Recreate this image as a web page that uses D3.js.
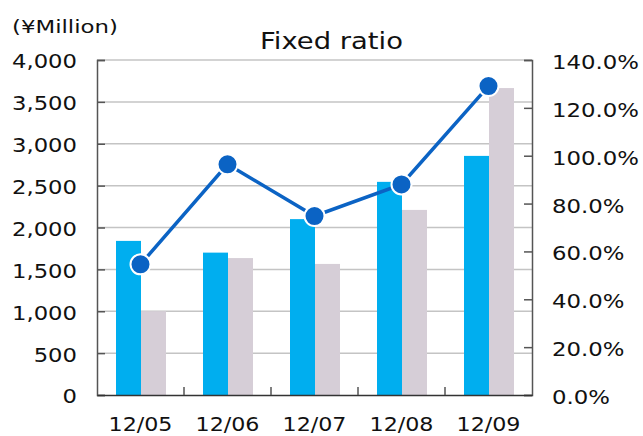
<!DOCTYPE html>
<html><head><meta charset="utf-8">
<script src="https://cdn.jsdelivr.net/npm/d3@7"></script>
<style>body{margin:0;background:#fff}svg{display:block}text{font-family:"DejaVu Sans",Verdana,sans-serif;fill:#111}</style>
</head><body>
<svg id="c" width="643" height="436"></svg>
<script>
const categories = ["12/05","12/06","12/07","12/08","12/09"];
const seriesA = [1840, 1700, 2100, 2545, 2855];
const seriesB = [1000, 1635, 1565, 2210, 3665];
const ratio = [54.6, 96.4, 74.8, 88.0, 129.1];
const leftTicks = [0,500,1000,1500,2000,2500,3000,3500,4000];
const rightTicks = [0,20,40,60,80,100,120,140];

const svg = d3.select("#c");
const L = 97, R = 532, T = 60, B = 395;
const x = d3.scaleBand().domain(categories).range([L, R]);
const yL = d3.scaleLinear().domain([0, 4000]).range([B, T]);
const yR = d3.scaleLinear().domain([0, 140]).range([B, T]);

// horizontal stretch to mimic the wide font of the original
function measure(str, size) {
  const t = svg.append("text").attr("font-size", size).text(str);
  const w = t.node().getComputedTextLength(); t.remove(); return w;
}
function stretch(sel, k) {
  sel.each(function() {
    const e = d3.select(this), ax = +e.attr("x");
    e.attr("transform", `translate(${ax},0) scale(${k},1) translate(${-ax},0)`);
  });
}

// gridlines
svg.append("g").selectAll("line").data(leftTicks.slice(1)).join("line")
  .attr("x1", L).attr("x2", R).attr("y1", d => yL(d)).attr("y2", d => yL(d))
  .attr("stroke", "#c4c4c4").attr("stroke-width", 1.5);

// bars
const bw = 25, off = 19;
svg.append("g").selectAll("rect").data(seriesA).join("rect")
  .attr("x", (d,i) => x(categories[i]) + off).attr("width", bw)
  .attr("y", d => yL(d)).attr("height", d => B - yL(d)).attr("fill", "#00AEEF");
svg.append("g").selectAll("rect").data(seriesB).join("rect")
  .attr("x", (d,i) => x(categories[i]) + off + bw).attr("width", bw)
  .attr("y", d => yL(d)).attr("height", d => B - yL(d)).attr("fill", "#D6CED7");

// axes
const fs = 19.5;
const axL = svg.append("g").attr("transform", `translate(${L},0)`)
  .call(d3.axisRight(yL).tickValues(leftTicks).tickSize(8).tickFormat(""));
axL.select(".domain").attr("stroke", "#555").attr("stroke-width", 1.5);
axL.selectAll(".tick line").attr("stroke", "#555").attr("stroke-width", 1.5);
const lt = svg.append("g").selectAll("text").data(leftTicks).join("text")
  .attr("x", 77).attr("y", d => yL(d) + 8.5).attr("text-anchor", "end")
  .attr("font-size", fs).text(d => d3.format(",")(d));
stretch(lt, 65 / measure("4,000", fs));

const axR = svg.append("g").attr("transform", `translate(${R},0)`)
  .call(d3.axisLeft(yR).tickValues(rightTicks).tickSize(8).tickFormat(""));
axR.select(".domain").attr("stroke", "#555").attr("stroke-width", 1.5);
axR.selectAll(".tick line").attr("stroke", "#555").attr("stroke-width", 1.5);
const rt = svg.append("g").selectAll("text").data(rightTicks).join("text")
  .attr("x", 552).attr("y", d => yR(d) + 9).attr("text-anchor", "start")
  .attr("font-size", fs).text(d => d.toFixed(1) + "%");
stretch(rt, 87 / measure("140.0%", fs));

const axB = svg.append("g").attr("transform", `translate(0,${B})`)
  .call(d3.axisTop(x).tickSize(0).tickFormat(""));
axB.select(".domain").attr("stroke", "#333").attr("stroke-width", 1.5);
svg.append("g").selectAll("line").data(categories.slice(1)).join("line")
  .attr("x1", d => x(d)).attr("x2", d => x(d)).attr("y1", B).attr("y2", B - 8)
  .attr("stroke", "#555").attr("stroke-width", 1.5);
const bt = svg.append("g").selectAll("text").data(categories).join("text")
  .attr("x", d => x(d) + x.bandwidth()/2).attr("y", 431).attr("text-anchor", "middle")
  .attr("font-size", fs).text(d => d);
stretch(bt, 64 / measure("12/05", fs));

// line
const cx = (d,i) => x(categories[i]) + x.bandwidth()/2;
svg.append("path").datum(ratio)
  .attr("d", d3.line().x(cx).y(d => yR(d)))
  .attr("fill", "none").attr("stroke", "#0B63C4").attr("stroke-width", 3.5);
svg.append("g").selectAll("circle").data(ratio).join("circle")
  .attr("cx", cx).attr("cy", d => yR(d)).attr("r", 10)
  .attr("fill", "#0B63C4").attr("stroke", "#fff").attr("stroke-width", 2);

// titles
const title = svg.append("text").attr("x", 331.5).attr("y", 49.5).attr("text-anchor", "middle")
  .attr("font-size", 22.5).text("Fixed ratio");
stretch(title, 143 / measure("Fixed ratio", 22.5));
const unit = svg.append("text").attr("x", 12).attr("y", 33).attr("font-size", 18.5).text("(¥Million)");
stretch(unit, 106 / measure("(¥Million)", 18.5));
</script>
</body></html>
